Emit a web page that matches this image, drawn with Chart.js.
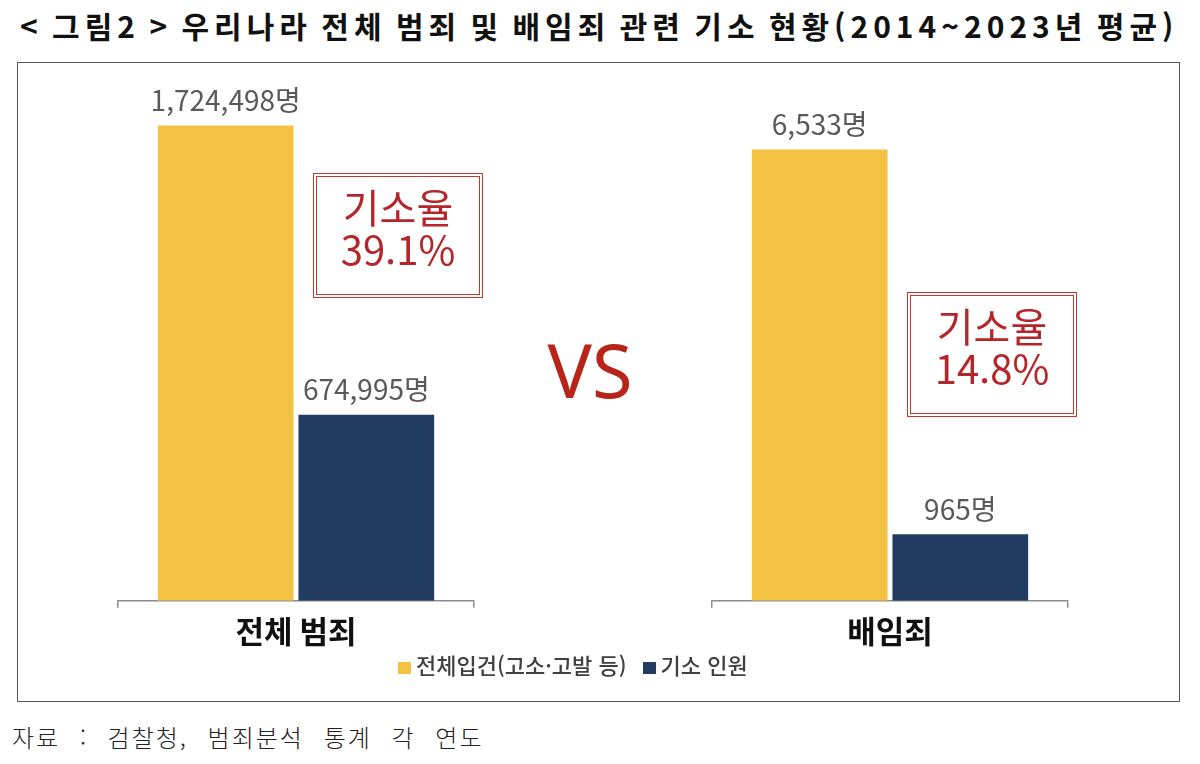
<!DOCTYPE html>
<html lang="ko">
<head>
<meta charset="utf-8">
<script src="https://cdn.jsdelivr.net/npm/chart.js@4.4.1/dist/chart.umd.min.js"></script>
<style>
  html, body { margin: 0; padding: 0; background: #fff; }
  body { width: 1200px; height: 764px; position: relative; overflow: hidden;
         font-family: "Noto Sans CJK KR", "Noto Sans", sans-serif; }
  #title { position: absolute; left: 20px; top: 5px; width: 1158px;
           font-size: 30px; font-weight: bold; color: #111; letter-spacing: 5px; word-spacing: -4px;
           text-align: justify; text-align-last: justify; white-space: nowrap; line-height: 40px; }
  #frame { position: absolute; left: 17px; top: 62px; width: 1161px; height: 638px;
           border: 1.5px solid #555; }
  .plot { position: absolute; top: 63px; width: 480px; height: 592px; }
  #vs { position: absolute; left: 540px; top: 320px; width: 100px; text-align: center;
        font-family: "Noto Sans", "Open Sans", sans-serif; font-size: 74px; color: #b92419; line-height: 100px; }
  .rate { position: absolute; width: 162px; height: 109px; border: 4px double #c0392e;
          color: #b5262a; font-size: 40px; line-height: 42px; text-align: center;
          box-sizing: content-box; padding-top: 8px; }
  #legend { position: absolute; left: 398px; top: 650px; font-size: 22px; font-weight: 500;
            color: #404040; white-space: nowrap; line-height: 28px; }
  #legend span.sw { display: inline-block; width: 13px; height: 12px; margin-right: 5px; vertical-align: 0px; }
  #legend span.item { margin-right: 16px; }
  #source { position: absolute; left: 12px; top: 719px; font-size: 24px; font-weight: 300;
            color: #222; letter-spacing: 2px; word-spacing: 11px; white-space: nowrap; line-height: 36px; }
</style>
</head>
<body>
<div id="title">&lt; 그림2 &gt; 우리나라 전체 범죄 및 배임죄 관련 기소 현황(2014~2023년 평균)</div>
<div id="frame"></div>
<div class="plot" style="left:58px"><canvas id="c0" width="480" height="592"></canvas></div>
<div class="plot" style="left:652px"><canvas id="c1" width="480" height="592"></canvas></div>
<div id="vs">VS</div>
<div class="rate" id="r0" style="left:313px; top:173px"></div>
<div class="rate" id="r1" style="left:907px; top:292px"></div>
<div id="legend"></div>
<div id="source">자료 : 검찰청, 범죄분석 통계 각 연도</div>

<script>
// data
const categories = ['전체 범죄', '배임죄'];
const seriesNames = ['전체입건(고소·고발 등)', '기소 인원'];
const filed = [1724498, 6533];
const indicted = [674995, 965];
const yMax = [1890000, 7540];
const colors = ['#f4c242', '#213c60'];

const fontFamily = '"Noto Sans CJK KR", "Noto Sans", sans-serif';

// value labels over each bar
const valueLabels = {
  id: 'valueLabels',
  afterDatasetsDraw(chart) {
    const ctx = chart.ctx;
    ctx.save();
    ctx.font = '28px ' + fontFamily;
    ctx.fillStyle = '#595959';
    ctx.textAlign = 'center';
    ctx.textBaseline = 'middle';
    chart.data.datasets.forEach(function(ds, i) {
      chart.getDatasetMeta(i).data.forEach(function(bar, j) {
        ctx.fillText(ds.data[j].toLocaleString('en-US') + '명', bar.x, bar.y - 25);
      });
    });
    ctx.restore();
  }
};

function makeChart(id, idx) {
  return new Chart(document.getElementById(id), {
    type: 'bar',
    data: {
      labels: [categories[idx]],
      datasets: [
        { label: seriesNames[0], data: [filed[idx]], backgroundColor: colors[0] },
        { label: seriesNames[1], data: [indicted[idx]], backgroundColor: colors[1] }
      ]
    },
    options: {
      responsive: false,
      animation: false,
      categoryPercentage: 0.79,
      barPercentage: 0.965,
      layout: { padding: { left: 60, right: 64, top: 17, bottom: 0 } },
      plugins: { legend: { display: false }, tooltip: { enabled: false } },
      scales: {
        x: {
          grid: { offset: true, drawOnChartArea: false, drawTicks: true, tickLength: 7, color: '#8c8c8c', lineWidth: 1.5 },
          border: { display: true, color: '#8c8c8c', width: 1.5 },
          ticks: { padding: 5, color: '#111', font: { family: fontFamily, size: 31, weight: 'bold' } }
        },
        y: { display: false, min: 0, max: yMax[idx] }
      }
    },
    plugins: [valueLabels]
  });
}

makeChart('c0', 0);
makeChart('c1', 1);

// prosecution rate boxes
for (let i = 0; i < 2; i++) {
  const rate = (indicted[i] / filed[i] * 100).toFixed(1);
  document.getElementById('r' + i).innerHTML = '기소율<br>' + rate + '%';
}

// legend
document.getElementById('legend').innerHTML = seriesNames.map(function(name, i) {
  return '<span class="item"><span class="sw" style="background:' + colors[i] + '"></span>' + name + '</span>';
}).join('');
</script>
</body>
</html>
